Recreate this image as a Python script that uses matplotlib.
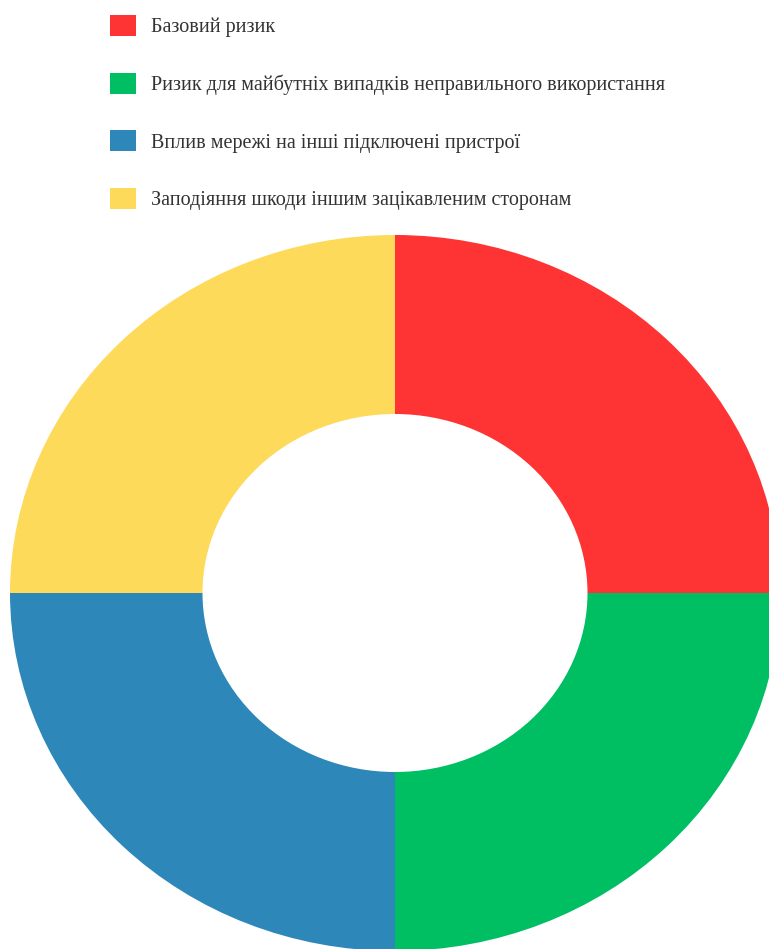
import matplotlib.pyplot as plt

# categories and shares (four equal parts)
labels = [
    "Базовий ризик",
    "Ризик для майбутніх випадків неправильного використання",
    "Вплив мережі на інші підключені пристрої",
    "Заподіяння шкоди іншим зацікавленим сторонам",
]
values = [25, 25, 25, 25]
colors = ["#FE3333", "#00BF63", "#2E87B9", "#FDDA5A"]

plt.rcParams['font.family'] = ['Liberation Serif', 'DejaVu Serif']

fig = plt.figure(figsize=(7.69, 9.49), dpi=100)

# donut area (slightly wider than tall, as in the original)
ax = fig.add_axes([10/769, -2/949, 770/769, 716/949])
wedges, _ = ax.pie(values, colors=colors, startangle=90, counterclock=False,
                   radius=1, wedgeprops=dict(width=0.5, linewidth=0))
ax.set_aspect('auto')
ax.set_xlim(-1, 1)
ax.set_ylim(-1, 1)
ax.axis('off')

# legend on top
fig.legend(wedges, labels, loc='upper left', bbox_to_anchor=(92/769, 1 + 3/949),
           frameon=False, fontsize=14.5, handlelength=1.3, handleheight=1.24,
           handletextpad=0.72, labelspacing=1.75, labelcolor='#333333')

fig.savefig('out.png', dpi=100)
